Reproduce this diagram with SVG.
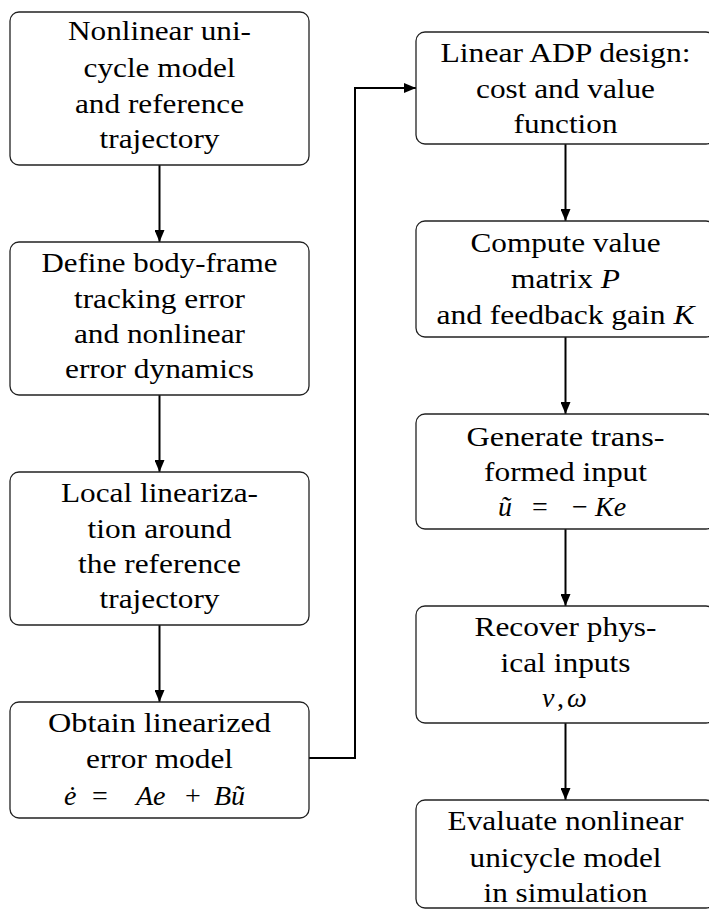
<svg xmlns="http://www.w3.org/2000/svg" width="709" height="910" viewBox="0 0 709 910" xml:lang="en">
<style>
.box{fill:#fff;stroke:#222;stroke-width:1.3}
.c{fill:none;stroke:#000;stroke-width:2}
</style>
<defs>
<marker id="ah" viewBox="0 0 12 10" refX="12" refY="5" markerWidth="12" markerHeight="10" markerUnits="userSpaceOnUse" orient="auto">
<path d="M0,0 L12,5 L0,10 z" fill="#000"/>
</marker>
</defs>
<rect width="709" height="910" fill="#fff"/>
<g id="connectors">
<path class="c" d="M159.5,165 V242" marker-end="url(#ah)"/>
<path class="c" d="M159.5,395 V472" marker-end="url(#ah)"/>
<path class="c" d="M159.5,625 V702" marker-end="url(#ah)"/>
<path class="c" d="M309,758 H355 V88 H416" marker-end="url(#ah)"/>
<path class="c" d="M565.5,144 V221" marker-end="url(#ah)"/>
<path class="c" d="M565.5,337 V414" marker-end="url(#ah)"/>
<path class="c" d="M565.5,529 V606" marker-end="url(#ah)"/>
<path class="c" d="M565.5,723 V800" marker-end="url(#ah)"/>
</g>
<g id="n1">
<rect class="box" x="10" y="12" width="299" height="153" rx="9"/>
<text x="159.5" y="40" font-family="Liberation Serif" font-size="27" text-anchor="middle" textLength="183" lengthAdjust="spacingAndGlyphs">Nonlinear uni-</text>
<text x="159.5" y="77" font-family="Liberation Serif" font-size="27" text-anchor="middle" textLength="152" lengthAdjust="spacingAndGlyphs">cycle model</text>
<text x="159.5" y="113" font-family="Liberation Serif" font-size="27" text-anchor="middle" textLength="169" lengthAdjust="spacingAndGlyphs">and reference</text>
<text x="159.5" y="148" font-family="Liberation Serif" font-size="27" text-anchor="middle" textLength="120" lengthAdjust="spacingAndGlyphs">trajectory</text>
</g>
<g id="n2">
<rect class="box" x="10" y="242" width="299" height="153" rx="9"/>
<text x="159.5" y="272" font-family="Liberation Serif" font-size="27" text-anchor="middle" textLength="236" lengthAdjust="spacingAndGlyphs">Define body-frame</text>
<text x="159.5" y="308" font-family="Liberation Serif" font-size="27" text-anchor="middle" textLength="171" lengthAdjust="spacingAndGlyphs">tracking error</text>
<text x="159.5" y="343" font-family="Liberation Serif" font-size="27" text-anchor="middle" textLength="171" lengthAdjust="spacingAndGlyphs">and nonlinear</text>
<text x="159.5" y="378" font-family="Liberation Serif" font-size="27" text-anchor="middle" textLength="189" lengthAdjust="spacingAndGlyphs">error dynamics</text>
</g>
<g id="n3">
<rect class="box" x="10" y="472" width="299" height="153" rx="9"/>
<text x="159.5" y="502" font-family="Liberation Serif" font-size="27" text-anchor="middle" textLength="197" lengthAdjust="spacingAndGlyphs">Local lineariza-</text>
<text x="159.5" y="538" font-family="Liberation Serif" font-size="27" text-anchor="middle" textLength="144" lengthAdjust="spacingAndGlyphs">tion around</text>
<text x="159.5" y="573" font-family="Liberation Serif" font-size="27" text-anchor="middle" textLength="163" lengthAdjust="spacingAndGlyphs">the reference</text>
<text x="159.5" y="608" font-family="Liberation Serif" font-size="27" text-anchor="middle" textLength="120" lengthAdjust="spacingAndGlyphs">trajectory</text>
</g>
<g id="n4">
<rect class="box" x="10" y="702" width="299" height="116" rx="9"/>
<text x="159.5" y="732" font-family="Liberation Serif" font-size="27" text-anchor="middle" textLength="223" lengthAdjust="spacingAndGlyphs">Obtain linearized</text>
<text x="159.5" y="768" font-family="Liberation Serif" font-size="27" text-anchor="middle" textLength="147" lengthAdjust="spacingAndGlyphs">error model</text>
<text y="805" font-family="Liberation Serif" font-size="28"><tspan x="64" font-style="italic">&#279;</tspan><tspan x="92">=</tspan><tspan x="136" font-style="italic">Ae</tspan><tspan x="185">+</tspan><tspan x="214" font-style="italic">B&#361;</tspan></text>
</g>
<g id="n5">
<rect class="box" x="416" y="32" width="299" height="112" rx="9"/>
<text x="565.5" y="62" font-family="Liberation Serif" font-size="27" text-anchor="middle" textLength="250" lengthAdjust="spacingAndGlyphs">Linear ADP design:</text>
<text x="565.5" y="98" font-family="Liberation Serif" font-size="27" text-anchor="middle" textLength="179" lengthAdjust="spacingAndGlyphs">cost and value</text>
<text x="565.5" y="133" font-family="Liberation Serif" font-size="27" text-anchor="middle" textLength="104" lengthAdjust="spacingAndGlyphs">function</text>
</g>
<g id="n6">
<rect class="box" x="416" y="221" width="299" height="116" rx="9"/>
<text x="565.5" y="252" font-family="Liberation Serif" font-size="27" text-anchor="middle" textLength="190" lengthAdjust="spacingAndGlyphs">Compute value</text>
<text x="565.5" y="288" font-family="Liberation Serif" font-size="27" text-anchor="middle" textLength="109" lengthAdjust="spacingAndGlyphs">matrix <tspan font-style="italic">P</tspan></text>
<text x="565.5" y="324" font-family="Liberation Serif" font-size="27" text-anchor="middle" textLength="258" lengthAdjust="spacingAndGlyphs">and feedback gain <tspan font-style="italic">K</tspan></text>
</g>
<g id="n7">
<rect class="box" x="416" y="414" width="299" height="115" rx="9"/>
<text x="565.5" y="446" font-family="Liberation Serif" font-size="27" text-anchor="middle" textLength="198" lengthAdjust="spacingAndGlyphs">Generate trans-</text>
<text x="565.5" y="481" font-family="Liberation Serif" font-size="27" text-anchor="middle" textLength="163" lengthAdjust="spacingAndGlyphs">formed input</text>
<text y="516" font-family="Liberation Serif" font-size="28"><tspan x="498" font-style="italic">&#361;</tspan><tspan x="532">=</tspan><tspan x="572">&#8722;</tspan><tspan x="595" font-style="italic">Ke</tspan></text>
</g>
<g id="n8">
<rect class="box" x="416" y="606" width="299" height="117" rx="9"/>
<text x="565.5" y="636" font-family="Liberation Serif" font-size="27" text-anchor="middle" textLength="182" lengthAdjust="spacingAndGlyphs">Recover phys-</text>
<text x="565.5" y="672" font-family="Liberation Serif" font-size="27" text-anchor="middle" textLength="130" lengthAdjust="spacingAndGlyphs">ical inputs</text>
<text y="707" font-family="Liberation Serif" font-size="28"><tspan x="542" font-style="italic">v</tspan><tspan x="557">,</tspan><tspan x="567" font-style="italic">&#969;</tspan></text>
</g>
<g id="n9">
<rect class="box" x="416" y="800" width="299" height="108" rx="9"/>
<text x="565.5" y="830" font-family="Liberation Serif" font-size="27" text-anchor="middle" textLength="236" lengthAdjust="spacingAndGlyphs">Evaluate nonlinear</text>
<text x="565.5" y="867" font-family="Liberation Serif" font-size="27" text-anchor="middle" textLength="192" lengthAdjust="spacingAndGlyphs">unicycle model</text>
<text x="565.5" y="902" font-family="Liberation Serif" font-size="27" text-anchor="middle" textLength="164" lengthAdjust="spacingAndGlyphs">in simulation</text>
</g>
</svg>
